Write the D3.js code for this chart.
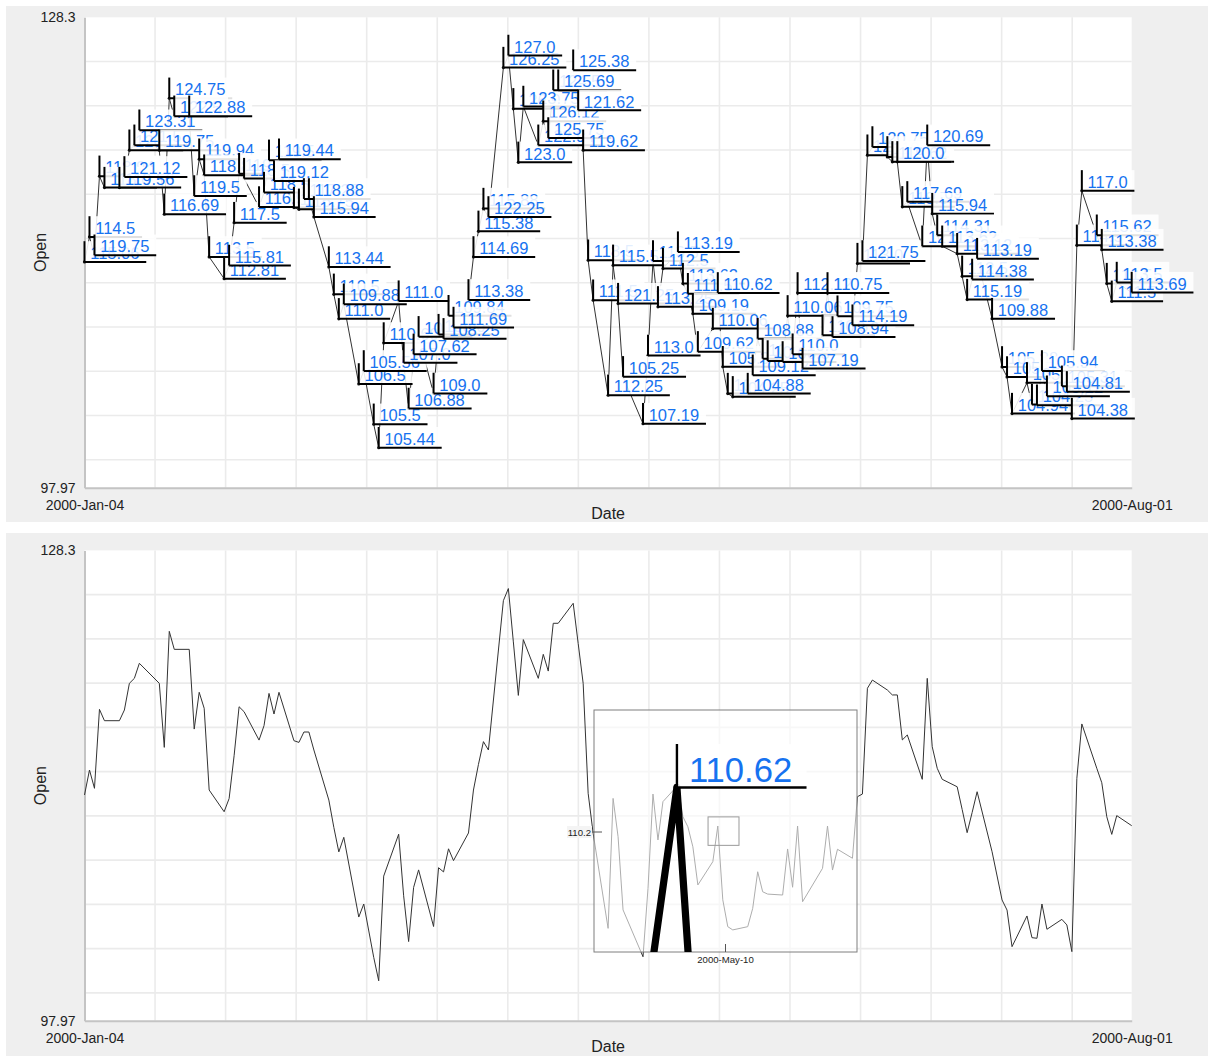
<!DOCTYPE html>
<html>
<head>
<meta charset="utf-8">
<script src="https://cdn.jsdelivr.net/npm/d3@7"></script>
<style>
  body { margin: 0; background: #fff; }
  svg { display: block; }
  text { font-family: "Liberation Sans", Arial, sans-serif; }
</style>
</head>
<body>
<svg id="chart" width="1208" height="1056"></svg>
<script>
// Daily quotes, Jan - Aug 2000
const dates = [
  "2000-01-04","2000-01-05","2000-01-06","2000-01-07","2000-01-08",
  "2000-01-11","2000-01-12","2000-01-13","2000-01-14","2000-01-15",
  "2000-01-19","2000-01-20","2000-01-21","2000-01-22",
  "2000-01-25","2000-01-26","2000-01-27","2000-01-28","2000-01-29",
  "2000-02-01","2000-02-02","2000-02-03","2000-02-04","2000-02-05",
  "2000-02-08","2000-02-09","2000-02-10","2000-02-11","2000-02-12",
  "2000-02-15","2000-02-16","2000-02-17","2000-02-18","2000-02-19",
  "2000-02-22","2000-02-23","2000-02-24","2000-02-25",
  "2000-02-28","2000-02-29","2000-03-02","2000-03-03","2000-03-04",
  "2000-03-07","2000-03-08","2000-03-09","2000-03-10","2000-03-11",
  "2000-03-14","2000-03-15","2000-03-16","2000-03-17","2000-03-18",
  "2000-03-21","2000-03-22","2000-03-23","2000-03-24","2000-03-25",
  "2000-03-28","2000-03-29","2000-03-30","2000-03-31","2000-04-01",
  "2000-04-04","2000-04-05","2000-04-06","2000-04-07","2000-04-08",
  "2000-04-11","2000-04-12","2000-04-13","2000-04-14","2000-04-15",
  "2000-04-18","2000-04-19","2000-04-20","2000-04-21",
  "2000-04-25","2000-04-26","2000-04-27","2000-04-28","2000-04-29",
  "2000-05-02","2000-05-03","2000-05-04","2000-05-05","2000-05-06",
  "2000-05-09","2000-05-10","2000-05-11","2000-05-12","2000-05-13",
  "2000-05-16","2000-05-17","2000-05-18","2000-05-19","2000-05-20",
  "2000-05-23","2000-05-24","2000-05-25","2000-05-26","2000-05-27",
  "2000-05-31","2000-06-01","2000-06-02","2000-06-03",
  "2000-06-06","2000-06-07","2000-06-08","2000-06-09","2000-06-10",
  "2000-06-13","2000-06-14","2000-06-15","2000-06-16","2000-06-17",
  "2000-06-20","2000-06-21","2000-06-22","2000-06-23","2000-06-24",
  "2000-06-27","2000-06-28","2000-06-29","2000-06-30","2000-07-01",
  "2000-07-04","2000-07-06","2000-07-07","2000-07-08",
  "2000-07-11","2000-07-12","2000-07-13","2000-07-14","2000-07-15",
  "2000-07-18","2000-07-19","2000-07-20","2000-07-21","2000-07-22",
  "2000-07-25","2000-07-26","2000-07-27","2000-07-28","2000-07-29",
  "2000-08-01"
];

const openValues = [
  112.53,114.14,112.96,118.05,117.32,
  117.32,118.01,119.73,120.05,121.02,
  119.73,115.6,123.08,121.92,
  121.92,116.78,119.15,118.12,112.85,
  111.45,112.3,115.06,118.22,117.9,
  116.07,117.0,119.08,117.75,119.15,
  116.03,115.92,116.59,116.59,115.43,
  112.2,110.44,108.86,109.8,
  104.66,105.5,102.06,100.55,107.3,
  110.0,106.03,103.08,106.57,107.7,
  104.05,107.84,107.57,109.06,108.3,
  110.08,112.85,114.5,115.97,115.43,
  125.06,125.84,122.4,118.95,122.55,
  120.05,121.6,120.52,123.6,123.6,
  124.89,122.3,119.73,112.64,110.06,
  103.93,112.31,109.84,105.12,
  102.1,106.5,112.59,109.63,112.1,
  113.16,111.13,110.48,109.19,106.73,
  108.23,110.53,105.77,104.04,103.83,
  104.04,105.22,107.58,106.29,106.14,
  106.08,109.05,106.58,110.53,105.65,
  107.8,110.53,107.69,109.03,
  108.45,112.42,112.59,119.41,119.94,
  119.3,118.98,118.98,116.08,116.4,
  113.54,120.05,115.64,114.25,113.54,
  113.06,111.6,110.1,111.4,112.74,
  108.87,105.76,105.11,102.75,
  104.73,103.33,103.29,105.5,103.87,
  104.51,104.15,102.43,113.6,117.11,
  114.25,113.32,111.13,109.99,111.2,
  110.55
];

const highValues = [
  115.06,114.5,119.75,118.94,118.0,
  119.56,121.12,120.5,121.5,123.31,
  119.75,116.69,124.75,122.5,
  122.88,119.5,119.94,118.81,113.5,
  112.81,115.81,117.5,119.0,118.5,
  116.94,118.5,119.5,119.12,119.44,
  117.0,116.75,117.25,118.88,115.94,
  113.44,110.5,111.0,109.88,
  106.5,105.56,105.5,105.44,110.69,
  111.0,107.0,106.88,107.62,108.5,
  109.0,108.0,108.25,109.84,111.69,
  113.38,114.69,115.38,115.88,122.25,
  126.25,127.0,126.0,123.0,123.75,
  122.94,126.12,125.75,124.5,125.69,
  125.38,121.62,119.62,118.5,111.5,
  112.25,115.5,121.25,105.25,
  107.19,113.0,113.5,113.25,112.5,
  113.19,113.62,111.5,109.19,109.62,
  110.06,110.62,105.94,104.5,104.25,
  104.88,109.12,108.88,107.0,106.75,
  106.5,110.06,110.0,112.12,107.19,
  110.5,110.75,108.94,109.75,
  114.19,113.0,121.75,120.25,120.75,
  119.94,119.62,120.0,118.5,117.69,
  121.0,120.69,115.94,114.31,113.62,
  113.12,112.5,115.19,114.38,113.19,
  109.88,105.88,105.5,104.94,
  105.0,104.5,104.25,105.94,105.12,
  105.31,104.81,104.38,114.5,117.0,
  115.62,113.38,112.5,111.5,113.5,
  113.69
];

const yDomain = [97.97, 128.3];
const axisTitles = { x: "Date", y: "Open" };

// magnifier on the lower chart
const lensFocus = { date: "2000-05-11T03:30:00Z", value: 110.2 };
const lensTickLabels = { x: "2000-May-10", y: "110.2" };
const calloutDate = "2000-05-10";

const parse = d3.utcParse("%Y-%m-%d");
const data = dates.map((d, i) => ({ date: parse(d), open: openValues[i], high: highValues[i] }));

const svg = d3.select("#chart");
const W = 1208;
const plotLeft = 84.5, plotRight = 1131.7;
const BLUE = "#1672f0";

const x = d3.scaleUtc().domain(d3.extent(data, d => d.date)).range([plotLeft, plotRight]);

const fmtLabel = v => Number.isInteger(v) ? v.toFixed(1) : String(v);

// label with a stem, an underline and a white backing box
function drawLabel(g, px, py, text, s, lw) {
  const lg = g.append("g").attr("transform", `translate(${px},${py}) scale(${s})`);
  const rect = lg.append("rect");
  const t = lg.append("text")
    .attr("x", 5.7).attr("y", -2.8)
    .attr("font-size", 16.5).attr("fill", BLUE)
    .text(text);
  const w = t.node().getComputedTextLength() + 12.5;
  rect.attr("x", 0).attr("y", -20.7).attr("width", w).attr("height", 20.7)
    .attr("fill", "#fff").attr("fill-opacity", 0.88);
  lg.append("line").attr("x1", 0).attr("y1", 0).attr("x2", 0).attr("y2", -20.7)
    .attr("stroke", "#000").attr("stroke-width", lw).attr("vector-effect", "non-scaling-stroke");
  lg.append("line").attr("x1", 0).attr("y1", 0).attr("x2", w).attr("y2", 0)
    .attr("stroke", "#000").attr("stroke-width", lw).attr("vector-effect", "non-scaling-stroke");
}

function drawPanel(bgTop, bgHeight, plotTop, plotBottom) {
  const g = svg.append("g");
  g.append("rect").attr("x", 6).attr("y", bgTop).attr("width", W - 6).attr("height", bgHeight)
    .attr("fill", "#efefef");
  g.append("rect").attr("x", plotLeft).attr("y", plotTop)
    .attr("width", plotRight - plotLeft).attr("height", plotBottom - plotTop).attr("fill", "#fff");

  const y = d3.scaleLinear().domain(yDomain).range([plotBottom, plotTop]);

  // grid
  const grid = g.append("g").attr("stroke", "#ebebeb").attr("stroke-width", 1.6);
  for (let gx = plotLeft + 70.55; gx < plotRight - 5; gx += 70.55) {
    grid.append("line").attr("x1", gx).attr("x2", gx).attr("y1", plotTop).attr("y2", plotBottom);
  }
  for (let gy = plotTop + 44.25; gy < plotBottom - 5; gy += 44.25) {
    grid.append("line").attr("x1", plotLeft).attr("x2", plotRight).attr("y1", gy).attr("y2", gy);
  }

  // axes: only the extremes are labelled
  const yAxis = g.append("g").attr("transform", `translate(${plotLeft},0)`)
    .call(d3.axisLeft(y).tickValues(yDomain).tickFormat(d => String(d)).tickSize(0).tickSizeOuter(0).tickPadding(9));
  const xAxis = g.append("g").attr("transform", `translate(0,${plotBottom})`)
    .call(d3.axisBottom(x).tickValues(x.domain()).tickFormat(d3.utcFormat("%Y-%b-%d")).tickSize(0).tickSizeOuter(0).tickPadding(12));
  [yAxis, xAxis].forEach(a => {
    a.select(".domain").attr("stroke", "#c4c4c4").attr("stroke-width", 2);
    a.selectAll("text").attr("font-size", 14).attr("fill", "#222")
      .attr("font-family", "'Liberation Sans', Arial, sans-serif");
  });

  g.append("text").attr("x", (plotLeft + plotRight) / 2).attr("y", plotBottom + 31.5)
    .attr("text-anchor", "middle").attr("font-size", 16).attr("fill", "#222").text(axisTitles.x);
  g.append("text").attr("transform", `translate(46,${(plotTop + plotBottom) / 2}) rotate(-90)`)
    .attr("text-anchor", "middle").attr("font-size", 16).attr("fill", "#222").text(axisTitles.y);

  const line = d3.line().x(d => x(d.date)).y(d => y(d.open));
  return { g, y, line };
}

// ---------- upper chart: line with a value label on every point ----------
const upperPanel = drawPanel(6, 516, 17.3, 487.7);
upperPanel.g.append("path").datum(data).attr("d", upperPanel.line)
  .attr("fill", "none").attr("stroke", "#333").attr("stroke-width", 1);
upperPanel.g.append("g").selectAll("circle").data(data).join("circle")
  .attr("cx", d => x(d.date)).attr("cy", d => upperPanel.y(d.open)).attr("r", 1.6).attr("fill", "#111");
const labelLayer = upperPanel.g.append("g");
data.forEach(d => drawLabel(labelLayer, x(d.date), upperPanel.y(d.open), fmtLabel(d.high), 1, 2));

// ---------- lower chart: line with a magnifier ----------
const lowerPanel = drawPanel(533, 523, 550.4, 1020.8);
lowerPanel.g.append("path").datum(data).attr("d", lowerPanel.line)
  .attr("fill", "none").attr("stroke", "#333").attr("stroke-width", 1);

const inset = { x: 594, y: 710, w: 263, h: 242 };
const k = 8.5;
const icx = inset.x + inset.w / 2, icy = inset.y + inset.h / 2;
const fcx = x(new Date(lensFocus.date)), fcy = lowerPanel.y(lensFocus.value);

lowerPanel.g.append("rect").attr("x", inset.x).attr("y", inset.y).attr("width", inset.w).attr("height", inset.h)
  .attr("fill", "#fff").attr("fill-opacity", 0.6).attr("stroke", "#7f7f7f").attr("stroke-width", 1);
// lens footprint
lowerPanel.g.append("rect").attr("x", fcx - inset.w / k / 2).attr("y", fcy - inset.h / k / 2)
  .attr("width", inset.w / k).attr("height", inset.h / k)
  .attr("fill", "none").attr("stroke", "#9a9a9a").attr("stroke-width", 1);

svg.append("defs").append("clipPath").attr("id", "lensClip")
  .append("rect").attr("x", inset.x).attr("y", inset.y).attr("width", inset.w).attr("height", inset.h);

const mag = lowerPanel.g.append("g").attr("clip-path", "url(#lensClip)");
const magInner = mag.append("g")
  .attr("transform", `translate(${icx - k * fcx},${icy - k * fcy}) scale(${k})`);
magInner.append("path").datum(data).attr("d", lowerPanel.line)
  .attr("fill", "none").attr("stroke", "#000").attr("stroke-width", 0.85).attr("stroke-linejoin", "round");

const focus = data.find(d => d3.utcFormat("%Y-%m-%d")(d.date) === calloutDate);
const mx = icx + k * (x(focus.date) - fcx), my = icy + k * (lowerPanel.y(focus.open) - fcy);
mag.append("circle").attr("cx", mx).attr("cy", my).attr("r", 3.4).attr("fill", "#000");
drawLabel(mag, mx, my, fmtLabel(focus.high), 2.1, 2.4);

// lens ticks
lowerPanel.g.append("line").attr("x1", inset.x - 2).attr("x2", inset.x + 8).attr("y1", icy + 1).attr("y2", icy + 1)
  .attr("stroke", "#555").attr("stroke-width", 1);
lowerPanel.g.append("rect").attr("x", inset.x - 27).attr("y", icy - 5).attr("width", 25).attr("height", 12)
  .attr("fill", "#f4f4f4");
lowerPanel.g.append("text").attr("x", inset.x - 3).attr("y", icy + 4.5).attr("text-anchor", "end")
  .attr("font-size", 9.6).attr("fill", "#222").text(lensTickLabels.y);
lowerPanel.g.append("line").attr("x1", icx).attr("x2", icx).attr("y1", inset.y + inset.h - 8).attr("y2", inset.y + inset.h)
  .attr("stroke", "#555").attr("stroke-width", 1);
lowerPanel.g.append("text").attr("x", icx).attr("y", inset.y + inset.h + 11).attr("text-anchor", "middle")
  .attr("font-size", 9.6).attr("fill", "#222").text(lensTickLabels.x);
</script>
</body>
</html>
